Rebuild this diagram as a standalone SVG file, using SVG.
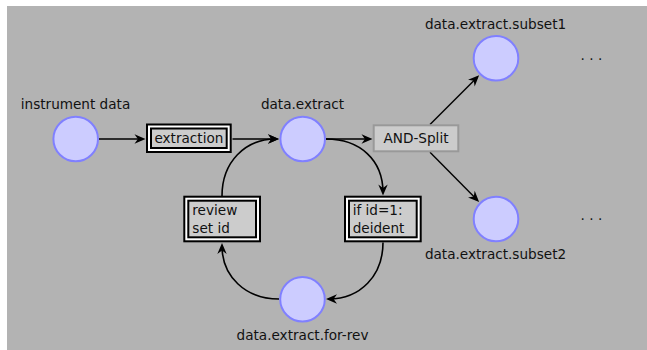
<svg xmlns="http://www.w3.org/2000/svg" width="647" height="350" viewBox="0 0 647 350">
  <style>
    text { font-family: "DejaVu Sans", "Noto Sans", sans-serif; font-size: 13.6px; fill: #111; }
    .lbl { text-anchor: middle; }
    .place { fill: #ccccff; stroke: #8080ff; stroke-width: 2; }
    .outer { fill: #ffffff; stroke: #000; stroke-width: 2; }
    .inner { fill: #cccccc; stroke: #000; stroke-width: 2; }
    .split { fill: #cccccc; stroke: #999999; stroke-width: 2; }
    .edge { fill: none; stroke: #000; stroke-width: 1.6; marker-end: url(#stealth); }
    .thin { stroke-width: 1.4; }
  </style>
  <defs>
    <marker id="stealth" markerUnits="userSpaceOnUse" markerWidth="16" markerHeight="12" refX="0" refY="0" viewBox="-9 -6 13 12" orient="auto" overflow="visible">
      <path d="M3,0 L-8,-4.7 L-4.6,0 L-8,4.7 Z" fill="#000"/>
    </marker>
  </defs>

  <!-- canvas -->
  <rect x="7" y="6" width="640" height="344" fill="#b3b3b3"/>

  <!-- connectors -->
  <g id="connectors">
    <path class="edge" d="M99,139 L142.5,139"/>
    <path class="edge" d="M232.5,139 L276,139"/>
    <path class="edge" d="M326,139 L369.5,139"/>
    <path class="edge thin" d="M430,124.5 L477,77.4"/>
    <path class="edge thin" d="M430,152.3 L477,199.8"/>
    <path class="edge" d="M326,139 C360,139 383,160 383,192.5"/>
    <path class="edge" d="M383,242.5 C383,276 360,299 329,299"/>
    <path class="edge" d="M279,299 C245,299 222,276 222,246"/>
    <path class="edge" d="M222,196 C222,162 245,139 276,139"/>
  </g>

  <!-- places -->
  <g id="instrument-data">
    <circle class="place" cx="75.7" cy="139" r="22.3"/>
    <text class="lbl" x="75.5" y="109">instrument data</text>
  </g>
  <g id="data-extract">
    <circle class="place" cx="302.7" cy="139" r="22.3"/>
    <text class="lbl" x="302.5" y="109">data.extract</text>
  </g>
  <g id="data-extract-for-rev">
    <circle class="place" cx="302.5" cy="299.3" r="22.3"/>
    <text class="lbl" x="302.5" y="340">data.extract.for-rev</text>
  </g>
  <g id="data-extract-subset1">
    <circle class="place" cx="496" cy="58.3" r="22.3"/>
    <text class="lbl" x="495.5" y="29">data.extract.subset1</text>
    <text x="580.5" y="60" letter-spacing="4.4">...</text>
  </g>
  <g id="data-extract-subset2">
    <circle class="place" cx="496" cy="219" r="22.3"/>
    <text class="lbl" x="495.5" y="259">data.extract.subset2</text>
    <text x="580.5" y="220" letter-spacing="4.4">...</text>
  </g>

  <!-- transitions -->
  <g id="extraction">
    <rect class="outer" x="147" y="124.5" width="83.7" height="27.5"/>
    <rect class="inner" x="151" y="128.5" width="75.7" height="19.5"/>
    <text class="lbl" x="188.9" y="143.3">extraction</text>
  </g>
  <g id="and-split">
    <rect class="split" x="373.7" y="125.3" width="84.6" height="26"/>
    <text class="lbl" x="416" y="143" font-size="15">AND-Split</text>
  </g>
  <g id="review">
    <rect class="outer" x="184.3" y="196.7" width="75.7" height="44.6"/>
    <rect class="inner" x="188.3" y="200.7" width="67.7" height="36.6"/>
    <text x="192.3" y="215">review</text>
    <text x="192.3" y="233.3">set id</text>
  </g>
  <g id="deident">
    <rect class="outer" x="345" y="196.7" width="75.7" height="44.6"/>
    <rect class="inner" x="349" y="200.7" width="67.7" height="36.6"/>
    <text x="352.7" y="215">if id=1:</text>
    <text x="352.7" y="233.3">deident</text>
  </g>
</svg>
